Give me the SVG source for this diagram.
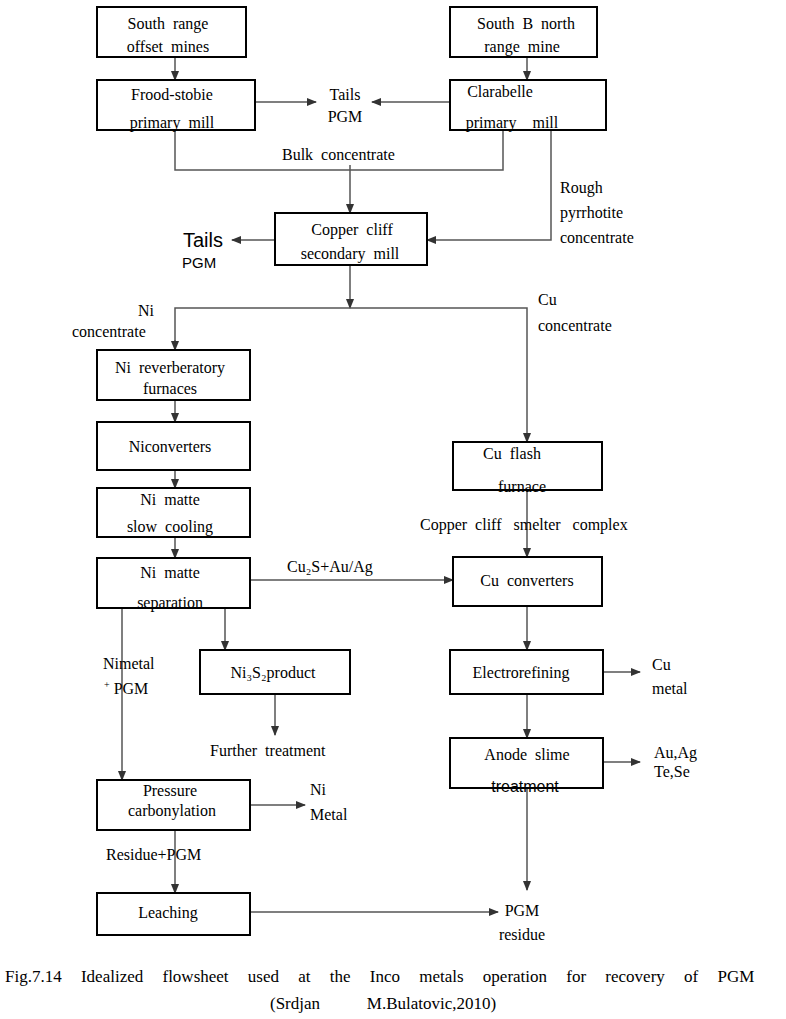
<svg xmlns="http://www.w3.org/2000/svg" width="786" height="1019" viewBox="0 0 786 1019">
<style>
rect{fill:#fff;stroke:#000;stroke-width:2}
.c line,.c polyline{stroke:#555;stroke-width:1.5;fill:none}
text{font-family:"Liberation Serif",serif;font-size:16px;fill:#000;white-space:pre}
.m{text-anchor:middle}
</style>
<defs><marker id="a" viewBox="0 0 10 10" refX="9" refY="5" markerWidth="7" markerHeight="7" orient="auto"><path d="M0,1L10,5L0,9z" fill="#333"/></marker></defs>
<rect width="786" height="1019" style="fill:#fff;stroke:none"/>
<g class="c">
<line x1="175" y1="57" x2="175" y2="80" marker-end="url(#a)"/>
<line x1="527" y1="57" x2="527" y2="80" marker-end="url(#a)"/>
<line x1="255" y1="102" x2="316" y2="102" marker-end="url(#a)"/>
<line x1="450" y1="102" x2="372" y2="102" marker-end="url(#a)"/>
<polyline points="175,130 175,170 350,170"/>
<polyline points="503,130 503,170 350,170"/>
<line x1="350" y1="165" x2="350" y2="213" marker-end="url(#a)"/>
<polyline points="551,130 551,240 427,240" marker-end="url(#a)"/>
<line x1="275" y1="240" x2="232" y2="240" marker-end="url(#a)"/>
<line x1="350" y1="265" x2="350" y2="308" marker-end="url(#a)"/>
<polyline points="175,350 175,308 527,308 527,442" marker-end="url(#a)"/>
<line x1="175" y1="340" x2="175" y2="350" marker-end="url(#a)"/>
<line x1="175" y1="400" x2="175" y2="422" marker-end="url(#a)"/>
<line x1="175" y1="470" x2="175" y2="488" marker-end="url(#a)"/>
<line x1="175" y1="537" x2="175" y2="558" marker-end="url(#a)"/>
<line x1="527" y1="490" x2="527" y2="557" marker-end="url(#a)"/>
<line x1="250" y1="580" x2="453" y2="580" marker-end="url(#a)"/>
<line x1="527" y1="606" x2="527" y2="650" marker-end="url(#a)"/>
<line x1="603" y1="672" x2="640" y2="672" marker-end="url(#a)"/>
<line x1="527" y1="694" x2="527" y2="738" marker-end="url(#a)"/>
<line x1="603" y1="762" x2="640" y2="762" marker-end="url(#a)"/>
<line x1="527" y1="788" x2="527" y2="890" marker-end="url(#a)"/>
<line x1="225" y1="608" x2="225" y2="650" marker-end="url(#a)"/>
<line x1="275" y1="694" x2="275" y2="735" marker-end="url(#a)"/>
<line x1="122" y1="608" x2="122" y2="780" marker-end="url(#a)"/>
<line x1="250" y1="805" x2="305" y2="805" marker-end="url(#a)"/>
<line x1="175" y1="830" x2="175" y2="893" marker-end="url(#a)"/>
<line x1="250" y1="912" x2="498" y2="912" marker-end="url(#a)"/>
</g>
<g id="n1"><rect x="97" y="7" width="149" height="50"/><text x="168" y="29" class="m">South  range</text><text x="168" y="52" class="m">offset  mines</text></g>
<g id="n2"><rect x="450" y="7" width="147" height="50"/><text x="526" y="29" class="m">South  B  north</text><text x="522" y="52" class="m">range  mine</text></g>
<g id="n3"><rect x="97" y="80" width="158" height="50"/><text x="172" y="100" class="m">Frood-stobie</text><text x="172" y="128" class="m">primary  mill</text></g>
<g id="n4"><rect x="450" y="80" width="156" height="50"/><text x="500" y="97" class="m">Clarabelle</text><text x="512" y="128" class="m">primary    mill</text></g>
<g id="t1"><text x="345" y="100" class="m">Tails</text><text x="345" y="122" class="m">PGM</text></g>
<text x="282" y="160">Bulk  concentrate</text>
<text x="560" y="193">Rough</text><text x="560" y="218">pyrrhotite</text><text x="560" y="243">concentrate</text>
<g id="n5"><rect x="275" y="213" width="152" height="52"/><text x="352" y="235" class="m">Copper  cliff</text><text x="350" y="259" class="m">secondary  mill</text></g>
<text x="183" y="247" style="font-family:'Liberation Sans',sans-serif;font-size:20px">Tails</text>
<text x="182" y="268" style="font-family:'Liberation Sans',sans-serif;font-size:15px">PGM</text>
<text x="138" y="316">Ni</text><text x="72" y="337">concentrate</text>
<text x="538" y="305">Cu</text><text x="538" y="331">concentrate</text>
<g id="n6"><rect x="97" y="350" width="153" height="50"/><text x="170" y="373" class="m">Ni  reverberatory</text><text x="170" y="394" class="m">furnaces</text></g>
<g id="n7"><rect x="97" y="422" width="153" height="48"/><text x="170" y="452" class="m">Niconverters</text></g>
<g id="n8"><rect x="97" y="488" width="153" height="49"/><text x="170" y="505" class="m">Ni  matte</text><text x="170" y="532" class="m">slow  cooling</text></g>
<g id="n9"><rect x="97" y="558" width="153" height="50"/><text x="170" y="578" class="m">Ni  matte</text><text x="170" y="608" class="m">separation</text></g>
<g id="n10"><rect x="453" y="442" width="149" height="48"/><text x="512" y="459" class="m">Cu  flash</text><text x="522" y="492" class="m">furnace</text></g>
<text x="420" y="530">Copper  cliff   smelter   complex</text>
<g id="n11"><rect x="453" y="557" width="149" height="49"/><text x="527" y="586" class="m">Cu  converters</text></g>
<text x="287" y="572">Cu₂S+Au/Ag</text>
<g id="n12"><rect x="450" y="650" width="153" height="44"/><text x="521" y="678" class="m">Electrorefining</text></g>
<text x="652" y="670">Cu</text><text x="652" y="694">metal</text>
<g id="n13"><rect x="450" y="738" width="153" height="50"/><text x="527" y="760" class="m">Anode  slime</text><text x="525" y="792" class="m" style="font-family:'Liberation Sans',sans-serif">treatment</text></g>
<text x="654" y="758">Au,Ag</text><text x="654" y="777">Te,Se</text>
<g id="n14"><rect x="200" y="650" width="150" height="44"/><text x="273" y="678" class="m">Ni₃S₂product</text></g>
<text x="210" y="756">Further  treatment</text>
<text x="103" y="669">Nimetal</text><text x="104" y="694"><tspan font-size="10" dy="-6">+</tspan><tspan dy="6"> PGM</tspan></text>
<g id="n15"><rect x="97" y="780" width="153" height="50"/><text x="170" y="796" class="m">Pressure</text><text x="172" y="816" class="m">carbonylation</text></g>
<text x="310" y="795">Ni</text><text x="310" y="820">Metal</text>
<text x="106" y="860">Residue+PGM</text>
<g id="n16"><rect x="97" y="893" width="153" height="42"/><text x="168" y="918" class="m">Leaching</text></g>
<text x="522" y="916" class="m">PGM</text><text x="522" y="940" class="m">residue</text>
<text x="5" y="982" style="font-size:17px;word-spacing:15px">Fig.7.14 Idealized flowsheet used at the Inco metals operation for recovery of PGM</text>
<text x="270" y="1009" style="font-size:17px">(Srdjan           M.Bulatovic,2010)</text>
</svg>
